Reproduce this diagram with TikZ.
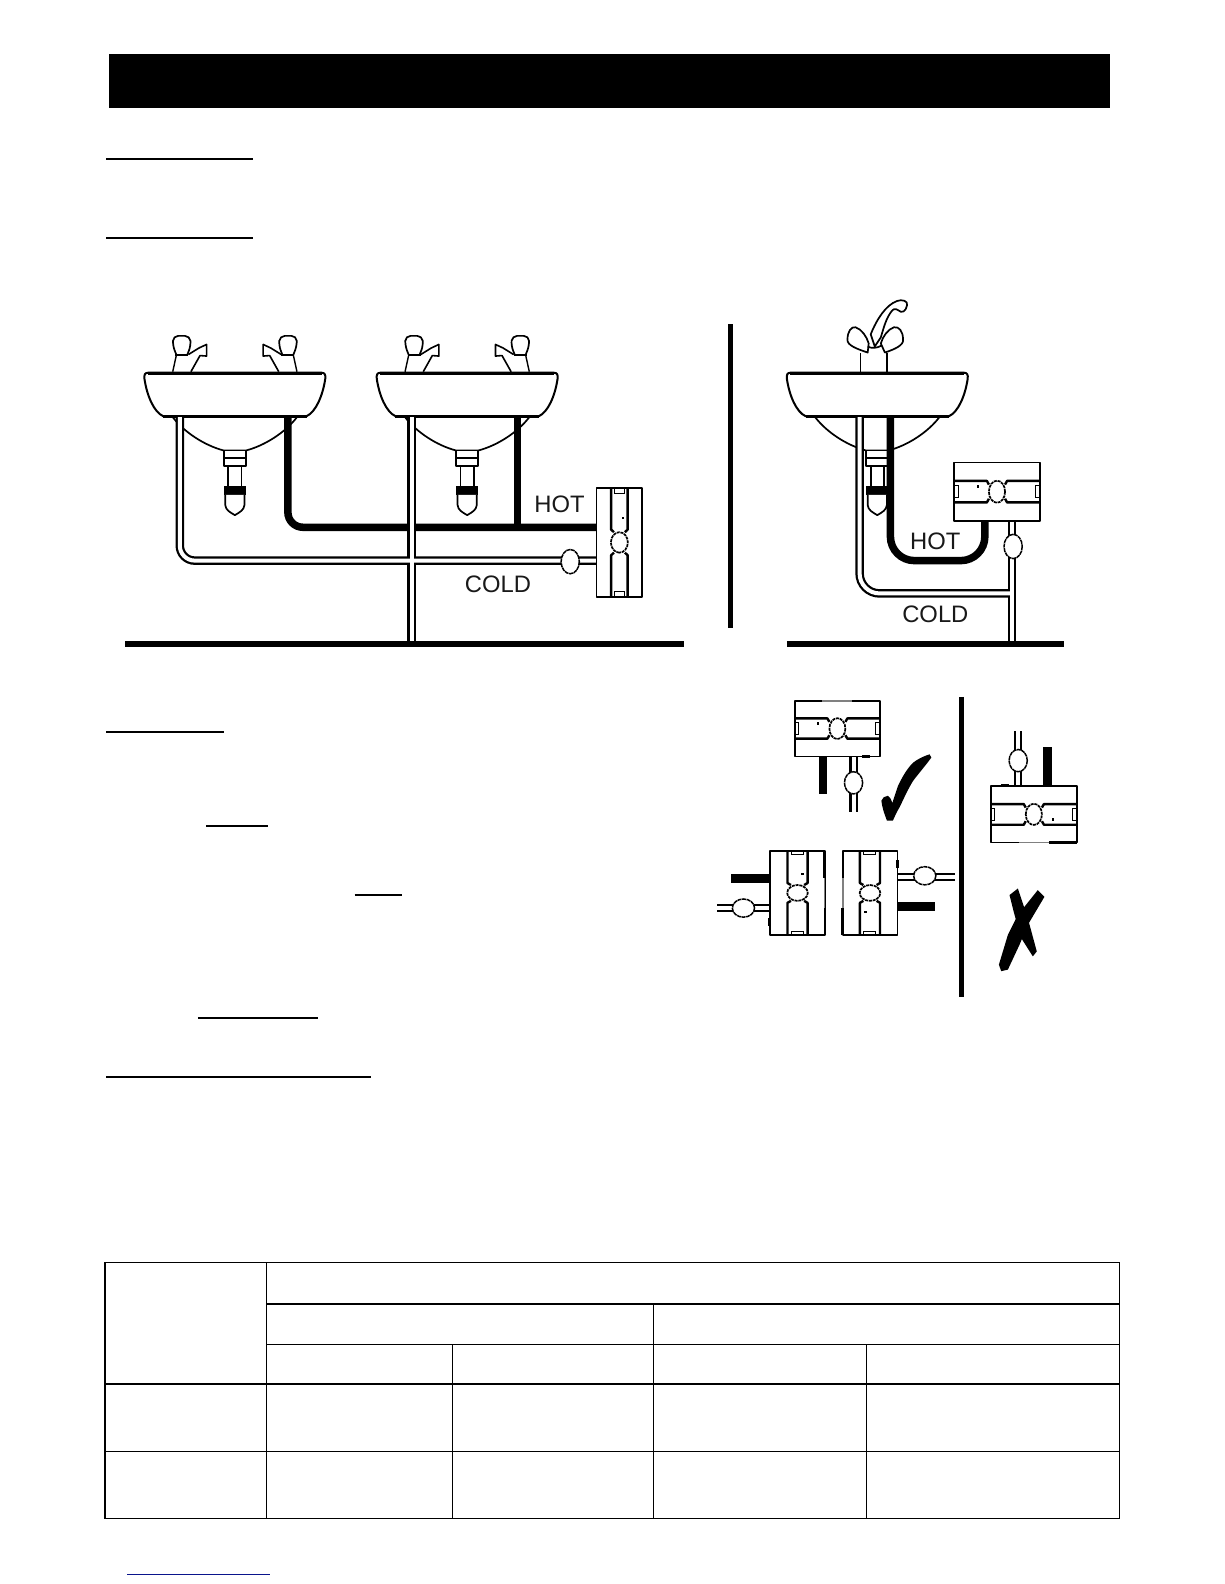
\documentclass[tikz,border=0pt]{standalone}
\usepackage{fontspec}
\setmainfont{Liberation Sans}
\definecolor{linkblue}{RGB}{10,20,140}
\tikzset{
  ruleline/.style={line width=2pt,black},
  gridline/.style={line width=1.4pt,black},
  floorline/.style={line width=6.5pt,black},
  divider/.style={line width=5pt,black},
  hotpipe/.style={line width=7.5pt,black},
  coldouter/.style={line width=8.5pt,black},
  coldinner/.style={line width=4pt,white},
  outline/.style={line width=1.7pt,black,line join=round},
  valvebody/.style={line width=1.5pt,black,fill=white},
  pipelabel/.style={font=\fontsize{23.8}{25}\selectfont,inner sep=0pt,text=black!90}
}
% heater: cx, cy, rotation, xscale, yscale
\newcommand{\heaterunit}[5]{%
\begin{scope}[shift={(#1,#2)},rotate=#3,xscale=#4,yscale=#5]
  \draw[outline,fill=white] (-42.5,-28) rectangle (42.5,28);
  \draw[outline,line width=2.4pt] (-42.5,-10.5) -- (-10,-10.5) -- (-8,-7);
  \draw[outline,line width=2.4pt] (42.5,-10.5) -- (10,-10.5) -- (8,-7);
  \draw[outline,line width=2.4pt] (-42.5,10) -- (-10,10) -- (-8,6.5);
  \draw[outline,line width=2.4pt] (42.5,10) -- (10,10) -- (8,6.5);
  \draw[line width=1.7pt,black,fill=white,dash pattern=on 3pt off 0.8pt] (0,-0.2) ellipse (8 and 10.5);
  \draw[line width=1pt,black,fill=white] (-42,-6.5) rectangle (-38.5,5.5);
  \draw[line width=1pt,black,fill=white] (38.5,-6.5) rectangle (42,5.5);
  \fill[black] (-20,-6.5) rectangle (-18,-3.5);
\end{scope}}
\newcommand{\heateraccent}[5]{%
\begin{scope}[shift={(#1,#2)},rotate=#3,xscale=#4,yscale=#5]
  \draw[line width=2.8pt,black] (-42.5,-28) -- (-15,-28);
  \draw[line width=1.5pt,black!50] (-15,-28) -- (15,-28);
  \draw[line width=2.8pt,black] (25,28) -- (33,28);
\end{scope}}
\newcommand{\valveunit}[4]{%
  \draw[valvebody,dash pattern=on 4pt off 0.6pt] (#1,#2) ellipse (#3 and #4);}
\newcommand{\tapunit}[1]{%
\begin{scope}[xscale=#1]
  \draw[outline,fill=white,rounded corners=5pt] (-58,351) -- (-61.5,342) -- (-61,332.5) -- (-44.5,332.5) -- (-43.5,342) -- (-47,351);
  \draw[line width=2.5pt,black] (-59,351.5) -- (-46,351.5);
  \draw[outline,line width=1.4pt] (-58,352) -- (-61.5,368);
  \draw[outline,line width=1.6pt] (-46,351) -- (-35.5,344.5) -- (-28,341) -- (-28,352.5) -- (-34.5,352) -- (-43.5,368);
\end{scope}}
\newcommand{\basinunit}{%
  \draw[outline,fill=white] (-61.5,413) .. controls (-50,428) and (-30,441) .. (-11,446) -- (11,446) .. controls (30,441) and (50,428) .. (61.5,413);
  \draw[outline,fill=white] (-11,446) rectangle (11,461);
  \fill[black] (-11,452) rectangle (11,454.5);
  \draw[outline,fill=white] (-6.5,461) rectangle (6.5,482);
  \fill[black] (-11,481) rectangle (11,490);
  \draw[outline,fill=white] (-9.5,490) -- (-9.5,500) .. controls (-9,505) and (-5,507) .. (0,510) .. controls (5,507) and (9,505) .. (9.5,500) -- (9.5,490);}
\newcommand{\bowlunit}{%
  \draw[outline,line width=2pt,fill=white] (-86,369) -- (86,369) .. controls (89,369) and (90,371) .. (89.5,375) .. controls (87,392) and (80,408) .. (71,412) -- (-71,412) .. controls (-80,408) and (-87,392) .. (-89.5,375) .. controls (-90,371) and (-89,369) .. (-86,369) -- cycle;
  \draw[line width=3pt,black] (-86,369.5) -- (86,369.5);
  \draw[line width=3pt,black] (-71,412) -- (71,412);}
\newcommand{\sinkunit}[1]{%
\begin{scope}[shift={(#1,0)}]
  \tapunit{1}\tapunit{-1}\basinunit\bowlunit
\end{scope}}
\begin{document}
\begin{tikzpicture}[x=1.0101pt,y=-1.0101pt]
\useasboundingbox (0pt,0pt) rectangle (1224pt,-1584pt);
\fill[white] (0pt,0pt) rectangle (1224pt,-1584pt);
% title bar
\fill[black] (108,53) rectangle (1099,107);
% heading underlines
\draw[ruleline] (105,157.5) -- (250,157.5);
\draw[ruleline] (105,235.5) -- (250,235.5);
\draw[ruleline] (105,725) -- (222,725);
\draw[ruleline] (204,818) -- (265,818);
\draw[ruleline] (351,886) -- (398,886);
\draw[ruleline] (196,1008) -- (315,1008);
\draw[ruleline] (105,1066) -- (367,1066);
% ---- left installation
\sinkunit{232.5}
\sinkunit{462.5}
\draw[floorline] (124,637.8) -- (677,637.8);
\draw[hotpipe,rounded corners=15pt] (285,412) -- (285,522) -- (592,522);
\draw[hotpipe] (512.5,412) -- (512.5,522);
\draw[coldouter,rounded corners=15pt] (178,412) -- (178,555) -- (592,555);
\draw[coldouter] (407.5,412) -- (407.5,635);
\draw[coldinner,rounded corners=15pt] (178,413) -- (178,555) -- (590,555);
\draw[coldinner] (407.5,413) -- (407.5,635);
\valveunit{564.5}{556}{9}{12}
\heaterunit{613}{537}{-90}{1.27}{0.8}
\node[pipelabel] (hotleft) at (554,499) {HOT};
\node[pipelabel] (coldleft) at (493,578) {COLD};
% dividers
\draw[divider] (723,321) -- (723,622);
\draw[divider] (952,690) -- (952,987);
% ---- right installation
\draw[outline,fill=white] (852,369) -- (852,349) (878,369) -- (878,349);
\draw[outline,fill=white] (862,331) .. controls (868,316) and (877,302) .. (888,298) .. controls (893,296) and (899,298) .. (898,302) .. controls (897,308) and (893,311) .. (889,307) .. controls (886,305) and (884,306) .. (882,309) .. controls (877,316) and (875,324) .. (872,334) -- (866,343) -- cycle;
\draw[outline,fill=white] (859,349) .. controls (850,346) and (838,342) .. (839,336) .. controls (839,328) and (843,323) .. (847,324) .. controls (853,326) and (858,333) .. (860,340) -- cycle;
\draw[outline,fill=white] (876,349) .. controls (885,346) and (895,342) .. (894,336) .. controls (894,328) and (890,323) .. (885,324) .. controls (879,326) and (874,333) .. (872,340) -- cycle;
\draw[outline] (859,343) .. controls (862,345) and (868,345) .. (873,342);
\begin{scope}[shift={(868.5,0)}]\basinunit\bowlunit\end{scope}
\draw[floorline] (779,637.8) -- (1053,637.8);
\draw[hotpipe,rounded corners=24pt] (881.5,412) -- (881.5,555) -- (975,555) -- (975,516);
\draw[coldouter,rounded corners=20pt] (851,412) -- (851,587.5) -- (1002,587.5);
\draw[coldouter] (1002,516) -- (1002,635);
\draw[coldinner,rounded corners=20pt] (851,413) -- (851,587.5) -- (1002,587.5);
\draw[coldinner] (1002,516) -- (1002,635);
\valveunit{1003}{541}{9}{12}
\heaterunit{987}{487}{0}{1}{1.04}
\node[pipelabel] (hotright) at (926,536) {HOT};
\node[pipelabel] (coldright) at (926,608) {COLD};
% ---- orientation: correct
\fill[black] (811,749) rectangle (819,786);
\draw[coldouter] (845,749) -- (845,804);
\draw[coldinner] (845,749) -- (845,804);
\valveunit{845}{775}{9}{11}
\heaterunit{829}{721.5}{0}{0.99}{0.98}
\heateraccent{829}{721.5}{0}{0.99}{0.98}
\fill[black] (920.3,746.8) .. controls (913,749) and (908,752) .. (904,755) .. controls (897,762) and (893,770) .. (889,778) .. controls (887,784) and (885,790) .. (883.4,795) .. controls (882,791) and (881,789) .. (879,787.8) .. controls (876,788) and (873,790) .. (872.6,792.7) .. controls (873,797) and (874,800) .. (875,804) -- (878,812.3) -- (884,812.3) .. controls (886,808) and (888,803) .. (890.7,799) .. controls (895,790) and (899,781) .. (904,773) .. controls (910,765) and (917,757) .. (922,750) -- cycle;
\fill[black] (724,865.5) rectangle (762,873.7);
\draw[coldouter] (710,899) -- (762,899);
\draw[coldinner] (710,899) -- (762,899);
\valveunit{736}{899}{11}{9}
\heaterunit{789.3}{884}{-90}{0.98}{0.97}
\heateraccent{789.3}{884}{-90}{0.98}{0.97}
\fill[black] (889,893) rectangle (926,901.5);
\draw[coldouter] (889,868) -- (945,868);
\draw[coldinner] (889,868) -- (945,868);
\valveunit{915.5}{867}{11}{9}
\heaterunit{861.5}{884}{90}{0.98}{0.97}
\heateraccent{861.5}{884}{90}{0.98}{0.97}
% ---- orientation: wrong
\draw[coldouter] (1008,724) -- (1008,779);
\draw[coldinner] (1008,724) -- (1008,779);
\valveunit{1008}{753}{9}{11}
\fill[black] (1033,740) rectangle (1041,779);
\heaterunit{1023.5}{806}{180}{1}{1}
\heateraccent{1023.5}{806}{180}{1}{1}
\fill[black] (999.4,886.1) -- (1007.7,879.6) -- (1017.5,909) -- (1026.4,941.9) -- (1022.5,946.8) -- (1011,928.7) -- (1004.4,905.8) -- cycle;
\fill[black,line join=round] (1027.4,881.2) -- (1034,887.8) -- (1017.5,915.6) -- (1009.3,935.3) -- (997.8,959.9) -- (991.2,961.5) -- (988.9,955) -- (997.8,925.5) -- (1007.7,905.8) -- cycle;
% ---- table
\draw[gridline] (104,1250) rectangle (1108,1503);
\draw[gridline] (264,1250) -- (264,1503);
\draw[gridline] (448,1331) -- (448,1503);
\draw[gridline] (647,1291) -- (647,1503);
\draw[gridline] (858,1331) -- (858,1503);
\draw[gridline] (264,1291) -- (1108,1291);
\draw[gridline] (264,1331) -- (1108,1331);
\draw[gridline] (104,1370) -- (1108,1370);
\draw[gridline] (104,1437) -- (1108,1437);
% link underline
\draw[line width=1.4pt,linkblue] (126,1559) -- (267,1559);
\end{tikzpicture}
\end{document}
